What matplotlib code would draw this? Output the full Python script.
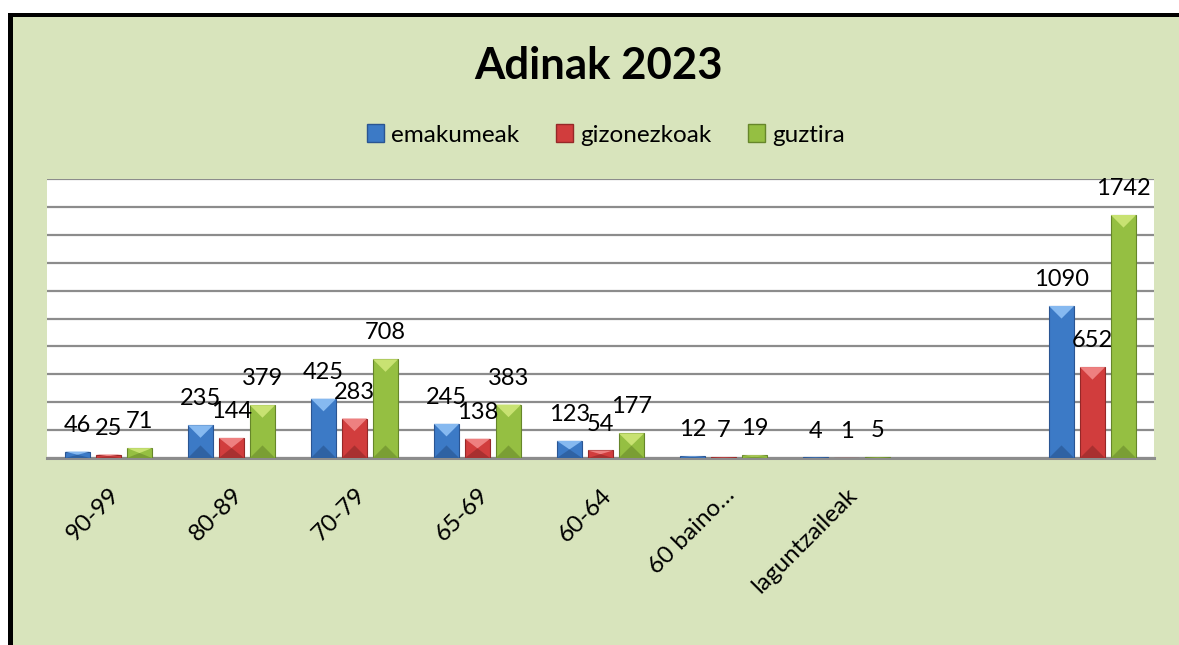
import numpy as np
import matplotlib
matplotlib.use("Agg")
import matplotlib.pyplot as plt
from matplotlib.patches import Rectangle, Patch

plt.rcParams['font.family'] = ['Lato', 'DejaVu Sans']

# data
categories = ['90-99', '80-89', '70-79', '65-69', '60-64', '60 baino…', 'laguntzaileak', '', '']
emakumeak = [46, 235, 425, 245, 123, 12, 4, None, 1090]
gizonezkoak = [25, 144, 283, 138, 54, 7, 1, None, 652]
guztira = [71, 379, 708, 383, 177, 19, 5, None, 1742]
series_names = ['emakumeak', 'gizonezkoak', 'guztira']

# (main, light top, dark bottom, edge)
colors = [
    ('#3C7AC6', '#86B9F0', '#2F62A3', '#2A5592'),
    ('#D13D3D', '#EE8080', '#A83030', '#962828'),
    ('#95BF42', '#C8E272', '#7A9E34', '#66862A'),
]

W, H = 1179, 645
fig = plt.figure(figsize=(W / 100, H / 100), dpi=100)
fig.patch.set_facecolor('white')

# green background + black frame (top and left)
fig.add_artist(Rectangle((13 / W, 0), 1, 1 - 16 / H, transform=fig.transFigure,
                         facecolor='#D8E4BC', edgecolor='none', zorder=0))
fig.add_artist(Rectangle((8 / W, 1 - 17 / H), 1, 4 / H, transform=fig.transFigure,
                         facecolor='black', edgecolor='none', zorder=1))
fig.add_artist(Rectangle((8 / W, 0), 5 / W, 1 - 13 / H, transform=fig.transFigure,
                         facecolor='black', edgecolor='none', zorder=1))

ax = fig.add_axes([47 / W, (H - 458) / H, (1154 - 47) / W, (458 - 179) / H])
ax.set_facecolor('white')
ax.set_xlim(-0.5, len(categories) - 0.5)
ax.set_ylim(0, 2000)
ax.set_yticks(np.arange(0, 2001, 200))
ax.set_yticklabels([])
ax.tick_params(axis='y', length=0)
ax.grid(axis='y', color='#8C8C8C', linewidth=1.6)
ax.set_axisbelow(True)
for s in ['top', 'right', 'left']:
    ax.spines[s].set_visible(False)
ax.spines['bottom'].set_color('#8C8C8C')
ax.spines['bottom'].set_linewidth(2.2)

bw = 0.205
offsets = [-0.252, 0, 0.252]
px_per_unit = (458 - 179) / 2000.0
bevel = (bw / 2) * 123 / px_per_unit  # bevel depth in data units

for vals, off, (c, light, dark, edge) in zip([emakumeak, gizonezkoak, guztira], offsets, colors):
    for i, v in enumerate(vals):
        if v is None:
            continue
        x = i + off
        ax.bar(x, v, width=bw, color=c, edgecolor=edge, linewidth=0.8, zorder=3)
        d = min(bevel, v / 2.0)
        ax.fill([x - bw / 2, x + bw / 2, x], [v, v, v - d], color=light, zorder=4, lw=0)
        ax.fill([x - bw / 2, x + bw / 2, x], [0, 0, d], color=dark, zorder=4, lw=0)
        ax.annotate(str(v), (x, v), xytext=(0, 19), textcoords='offset points',
                    ha='center', va='center', fontsize=17, zorder=5)

ax.set_xticks(np.arange(len(categories)))
ax.set_xticklabels(categories, rotation=45, ha='right', rotation_mode='anchor', fontsize=17.5)
ax.tick_params(axis='x', length=0, pad=19)

fig.text(598 / W, 1 - 66 / H, 'Adinak 2023', ha='center', va='center',
         fontsize=31.5, fontweight='bold')

handles = [Patch(facecolor=c[0], edgecolor=c[3]) for c in colors]
fig.legend(handles, series_names, loc='center', bbox_to_anchor=(606 / W, 1 - 135 / H),
           ncol=3, frameon=False, fontsize=17.5, handlelength=0.7, handleheight=0.7,
           handletextpad=0.3, columnspacing=1.5)

fig.savefig('out.png', dpi=100)
